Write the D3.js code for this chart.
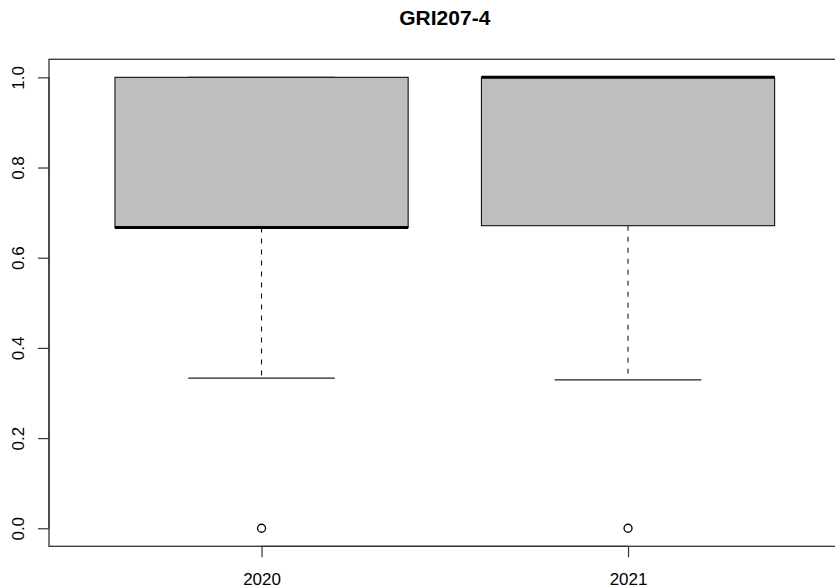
<!DOCTYPE html>
<html><head><meta charset="utf-8">
<script src="https://cdn.jsdelivr.net/npm/d3@7"></script>
<style>body{margin:0;background:#fff}svg{display:block}</style>
</head><body>
<svg id="c" width="835" height="588"></svg>
<script>
const categories = ["2020", "2021"];
const lowerWhisker = [0.333, 0.329];
const lowerHinge = [0.667, 0.671];
const medians = [0.667, 1.0];
const upperHinge = [1.0, 1.0];
const upperWhisker = [1.0, 1.0];
const outliers = [[0.0], [0.0]];
const yTicks = [0, 0.2, 0.4, 0.6, 0.8, 1.0];
const title = "GRI207-4";

const svg = d3.select("#c");
const x = d3.scaleLinear().domain([0.42, 2.58]).range([49, 840.6]);
const y = d3.scaleLinear().domain([-0.04, 1.04]).range([546.3, 59.3]);
const font = "'Liberation Sans', Arial, Helvetica, sans-serif";
const boxW = 0.8, capW = 0.4;

const data = categories.map((c, i) => ({c, i: i + 1, lw: lowerWhisker[i], lh: lowerHinge[i], md: medians[i], uh: upperHinge[i], uw: upperWhisker[i], out: outliers[i]}));

const g = svg.append("g");
data.forEach(d => {
  // whiskers (dashed)
  g.append("line").attr("x1", x(d.i)).attr("x2", x(d.i)).attr("y1", y(d.lh)).attr("y2", y(d.lw))
    .attr("stroke", "#000").attr("stroke-width", 1).attr("stroke-dasharray", "5,6");
  if (d.uw > d.uh) g.append("line").attr("x1", x(d.i)).attr("x2", x(d.i)).attr("y1", y(d.uh)).attr("y2", y(d.uw))
    .attr("stroke", "#000").attr("stroke-width", 1).attr("stroke-dasharray", "5,6");
  // box
  g.append("rect").attr("x", x(d.i - boxW / 2)).attr("width", x(d.i + boxW / 2) - x(d.i - boxW / 2))
    .attr("y", y(d.uh)).attr("height", y(d.lh) - y(d.uh))
    .attr("fill", "#bebebe").attr("stroke", "#111").attr("stroke-width", 1.1);
  // caps
  [d.lw, d.uw].forEach(v => g.append("line").attr("x1", x(d.i - capW / 2)).attr("x2", x(d.i + capW / 2))
    .attr("y1", y(v)).attr("y2", y(v)).attr("stroke", "#222").attr("stroke-width", 1.2));
  // median
  g.append("line").attr("x1", x(d.i - boxW / 2)).attr("x2", x(d.i + boxW / 2))
    .attr("y1", y(d.md)).attr("y2", y(d.md)).attr("stroke", "#000").attr("stroke-width", 3);
  // outliers
  d.out.forEach(v => g.append("circle").attr("cx", x(d.i)).attr("cy", y(v)).attr("r", 4)
    .attr("fill", "none").attr("stroke", "#000").attr("stroke-width", 1.3));
});

// frame
svg.append("rect").attr("x", 49).attr("y", y(1.04)).attr("width", 840.6 - 49).attr("height", y(-0.04) - y(1.04))
  .attr("fill", "none").attr("stroke", "#333").attr("stroke-width", 1.3);

// y axis
const ya = svg.append("g").attr("transform", "translate(49,0)")
  .call(d3.axisLeft(y).tickValues(yTicks).tickSize(11).tickFormat(d3.format(".1f")));
ya.select(".domain").attr("d", `M0,${y(0)}V${y(1)}`).attr("stroke", "#333").attr("stroke-width", 1.3);
ya.selectAll(".tick line").attr("stroke", "#333").attr("stroke-width", 1.2);
ya.selectAll(".tick text").attr("x", null).attr("dy", null).attr("font-family", font).attr("font-size", 17)
  .attr("fill", "#000").attr("text-anchor", "middle").attr("transform", "translate(-25,0) rotate(-90)");

// x axis
const xa = svg.append("g").attr("transform", `translate(0,${y(-0.04)})`)
  .call(d3.axisBottom(x).tickValues([1, 2]).tickSize(11).tickFormat(v => categories[v - 1]));
xa.select(".domain").attr("d", `M${x(1)},0H${x(2)}`).attr("stroke", "#333").attr("stroke-width", 1.3);
xa.selectAll(".tick line").attr("stroke", "#333").attr("stroke-width", 1.2);
xa.selectAll(".tick text").attr("y", 39).attr("dy", null).attr("font-family", font).attr("font-size", 17).attr("fill", "#000");

// title
svg.append("text").attr("x", (49 + 840.6) / 2).attr("y", 25).attr("text-anchor", "middle")
  .attr("font-family", font).attr("font-weight", "bold").attr("font-size", 21).text(title);
</script>
</body></html>
